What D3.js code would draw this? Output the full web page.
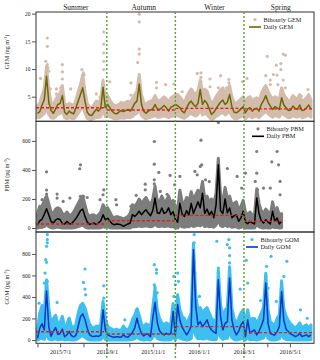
<!DOCTYPE html>
<html>
<head>
<meta charset="utf-8">
<script src="https://cdn.jsdelivr.net/npm/d3@7"></script>
<style>
  body { margin: 0; background: #fff; }
  svg { display: block; font-family: "Liberation Serif", "Times New Roman", serif; }
</style>
</head>
<body>
<div id="viz"></div>
<script>
// daily series: one value every 3 days from 2015/6/1
const START = new Date(2015, 5, 1);
const STEP_DAYS = 3;

const seasonNames = ["Summer", "Autumn", "Winter", "Spring"];
const seasonLabelDates = ["2015-07-22", "2015-10-20", "2016-01-22", "2016-04-19"];
const seasonBounds = ["2015-09-01", "2015-12-01", "2016-03-01"];

// GEM (ng m-3)
const gemDaily = [2.0,2.3,3.5,4.5,8.7,4.0,2.5,2.0,2.8,3.6,
  3.8,5.2,2.2,1.8,2.4,2.1,1.9,3.0,4.2,5.4,
  6.6,4.2,2.2,1.7,1.6,2.2,2.7,2.4,3.0,6.7,
  3.0,3.6,3.0,2.4,2.0,1.9,2.2,2.5,2.3,2.5,
  2.7,2.4,3.0,3.8,4.2,7.3,3.6,2.4,2.0,2.4,
  2.6,2.8,3.6,2.8,2.7,3.0,3.4,3.0,2.4,3.1,
  3.3,3.6,3.4,3.0,2.4,2.1,3.0,3.8,4.2,3.6,
  3.2,3.8,6.3,3.6,4.3,3.8,2.8,1.8,2.2,2.8,
  3.5,4.0,4.4,3.6,4.0,5.4,3.2,2.2,2.1,2.4,
  2.8,3.2,2.1,2.8,3.0,2.4,2.8,2.9,2.4,3.6,
  4.3,5.2,4.0,3.3,2.7,3.2,3.0,2.7,4.8,3.5,
  3.0,2.5,2.6,3.3,2.9,2.7,3.5,2.5,2.6,3.0,
  3.5,2.7];
// spread of the bihourly readings around each daily value
const gemHigh = [3.4,3.8,5.2,6.5,10.5,6.2,4.0,3.6,4.4,5.2,
  5.6,7.0,3.8,3.4,3.8,3.6,3.3,4.4,5.8,7.2,
  9.0,6.0,3.8,3.2,3.0,3.6,4.2,4.0,4.6,8.0,
  4.6,5.2,4.4,3.8,3.4,3.4,3.6,4.0,3.8,4.0,
  4.2,4.0,4.6,5.4,6.0,9.0,5.4,4.0,3.6,4.0,
  4.2,4.4,5.2,4.4,4.2,4.6,5.0,4.6,4.0,4.8,
  5.0,5.4,5.4,5.0,4.4,4.0,5.0,5.8,6.4,5.8,
  5.4,6.0,8.0,5.8,6.4,6.0,4.8,3.6,4.2,5.0,
  5.6,6.2,6.6,5.8,6.2,7.0,5.0,4.0,3.8,4.2,
  4.6,5.0,4.0,4.8,5.0,4.2,4.6,4.8,4.2,5.6,
  6.4,7.0,6.0,5.2,4.6,5.0,4.8,4.6,6.6,5.4,
  4.8,4.2,4.4,5.2,4.8,4.6,5.4,4.2,4.4,4.8,
  5.4,4.4];
const gemLow = [1.2,1.3,1.6,2.0,3.0,1.8,1.2,1.1,1.4,1.8,
  2.0,2.4,1.2,1.0,1.2,1.1,1.0,1.4,2.0,2.6,
  3.2,2.0,1.1,0.9,0.9,1.1,1.3,1.2,1.4,2.8,
  1.4,1.6,1.4,1.2,1.0,1.0,1.1,1.2,1.1,1.2,
  1.3,1.2,1.4,1.8,2.0,3.0,1.6,1.2,1.0,1.2,
  1.3,1.4,1.7,1.3,1.3,1.4,1.6,1.4,1.2,1.4,
  1.5,1.7,1.6,1.4,1.2,1.1,1.4,1.8,2.0,1.7,
  1.5,1.8,2.6,1.7,2.0,1.8,1.3,0.9,1.1,1.4,
  1.7,2.0,2.2,1.7,2.0,2.4,1.5,1.1,1.0,1.2,
  1.4,1.6,1.0,1.4,1.5,1.2,1.4,1.5,1.2,1.7,
  2.0,2.4,1.9,1.6,1.3,1.6,1.5,1.3,2.2,1.7,
  1.5,1.2,1.3,1.6,1.4,1.3,1.7,1.2,1.3,1.5,
  1.7,1.3];
// isolated bihourly readings: [days after 2015/6/1, value]
const gemSpikes = [[4,8.3],[13,15.6],[13,14.1],[11,11.4],[13,10.8],[14,10.2],[15,9.6],[12,9.3],[17,6.4],[25,6.4],[25,5.5],
  [33,10.8],[33,9.5],[33,8.2],[33,6.9],[33,6.0],[31,6.6],[44,6.4],[59,9.9],[61,9.3],[62,8.9],[60,8.2],[59,7.6],
  [78,5.5],[83,4.9],[88,16.7],[88,14.5],[88,12.9],[88,11.4],[88,9.9],[96,7.7],[124,7.5],[124,5.3],
  [135,19.9],[135,18.5],[135,13.6],[135,12.7],[133,11.2],[158,7.6],[158,6.6],[170,7.2],[181,7.3],[192,5.9],
  [212,9.2],[217,9.3],[217,8.5],[217,7.7],[229,8.2],[229,6.8],[243,8.8],[240,6.6],[254,8.1],[254,7.5],[251,6.6],
  [278,8.3],[272,7.7],[305,12.3],[303,8.8],[302,6.8],[309,8.0],[309,7.2],[313,9.0],[317,10.7],[318,8.9],[319,7.2],
  [323,11.0],[323,9.9],[326,12.7],[326,8.0],[329,12.5],[329,6.6],[350,5.1],[359,6.3]];
const gemMedian = [3.0, 2.6, 2.9, 2.8];

// PBM (pg m-3), ends 2016/4/21
const pbmDaily = [20,50,60,95,133,90,45,34,55,65,
  57,30,28,45,30,30,46,65,90,120,
  130,80,42,25,30,34,24,35,50,92,
  57,69,48,30,22,28,26,22,12,20,
  28,34,92,80,95,115,92,110,126,103,
  85,120,206,105,100,138,100,110,138,92,
  112,60,40,170,95,80,120,90,170,100,
  140,180,140,240,100,130,90,115,70,160,
  435,120,100,200,105,138,70,85,90,46,
  69,115,40,30,46,35,28,206,100,50,
  34,57,40,28,115,46,69,28,46];
const pbmHigh = [100,150,150,190,220,170,110,100,130,140,
  130,100,90,110,90,90,110,140,170,200,
  220,160,100,80,90,90,80,90,110,160,
  130,140,110,80,70,80,75,70,60,70,
  80,100,160,150,170,200,170,190,210,180,
  160,200,290,190,180,220,180,190,220,170,
  190,150,130,260,180,170,210,180,250,190,
  230,260,230,320,200,220,180,200,170,240,
  480,220,190,280,200,220,160,170,180,120,
  150,190,110,90,110,90,90,270,170,120,
  100,130,110,90,180,110,140,90,100];
const pbmLow = [0,3,5,10,25,10,2,0,5,5,
  4,0,0,2,0,0,2,5,10,15,
  20,8,0,0,0,0,0,0,2,10,
  5,8,2,0,0,0,0,0,0,0,
  0,0,10,8,10,15,10,12,15,12,
  8,12,30,12,10,15,10,12,15,8,
  10,2,0,20,8,5,12,8,20,10,
  15,20,15,30,10,15,8,12,5,20,
  60,15,10,25,10,15,5,8,8,0,
  5,10,0,0,2,0,0,25,8,2,
  0,3,0,0,10,2,5,0,2];
const pbmSpikes = [[12,387],[12,261],[12,234],[12,197],[6,195],[26,234],[26,206],[43,206],[34,183],[56,408],[57,435],
  [57,218],[61,218],[66,210],[83,195],[88,263],[87,229],[104,195],[105,160],[124,150],[131,225],[143,302],[143,263],
  [155,596],[155,440],[155,332],[155,305],[161,383],[163,252],[172,232],[176,362],[182,298],[189,355],[209,390],
  [212,366],[218,435],[216,424],[217,605],[223,332],[228,320],[240,726],[240,456],[252,410],[265,355],[276,378],
  [271,275],[291,527],[291,378],[289,321],[292,263],[300,275],[309,275],[311,456],[318,527],[320,435],[322,321],[322,229]];
const pbmMedian = [28, 50, 87, 46];

// GOM (pg m-3)
const gomDaily = [16,110,150,93,455,120,35,80,115,50,
  60,100,30,47,80,40,28,42,130,215,
  243,190,110,50,35,32,38,33,45,280,
  93,47,38,30,25,31,28,25,47,30,
  25,47,70,110,202,120,60,37,55,50,
  31,200,350,160,85,60,47,62,50,60,
  264,47,330,180,120,80,47,80,130,840,
  320,140,171,124,150,187,124,93,75,62,
  560,218,93,155,170,576,187,93,47,80,
  140,171,31,187,62,80,93,47,80,130,
  187,529,155,62,50,47,78,124,451,180,
  100,78,55,47,31,40,62,31,40,47,
  31,47];
const gomHigh = [100,250,320,250,560,300,150,200,230,150,
  160,220,110,150,200,130,110,150,250,320,
  340,300,220,150,120,110,130,120,150,360,
  200,130,110,100,90,100,90,90,130,100,
  90,130,190,230,290,230,150,120,150,140,
  110,300,480,280,200,160,140,160,140,160,
  340,150,420,280,220,200,150,200,250,900,
  420,280,300,250,280,300,250,200,180,160,
  650,330,200,280,300,680,300,200,150,200,
  250,280,140,280,170,200,200,150,200,250,
  300,620,280,170,150,140,200,230,550,290,
  220,180,150,130,110,130,160,110,130,140,
  110,140];
const gomLow = [0,10,15,5,60,10,0,5,10,2,
  5,8,0,2,5,0,0,2,15,30,
  40,25,8,0,0,0,0,0,2,40,
  5,0,0,0,0,0,0,0,2,0,
  0,2,5,10,30,10,2,0,2,2,
  0,25,50,15,5,2,0,2,0,2,
  30,0,40,15,8,5,0,5,10,150,
  40,10,15,8,10,20,8,5,3,2,
  80,25,5,15,15,80,20,5,0,5,
  10,15,0,20,2,5,5,0,5,10,
  20,70,15,2,0,0,5,10,60,15,
  5,3,2,0,0,0,2,0,0,2,
  0,2];
const gomSpikes = [[13,980],[13,934],[13,903],[12,871],[11,747],[12,722],[10,622],[9,529],[13,545],[2,342],[6,280],
  [26,349],[42,202],[63,660],[61,535],[63,473],[64,420],[88,504],[88,389],[87,311],[116,187],[133,280],
  [155,700],[158,654],[158,622],[155,513],[156,492],[159,439],[181,405],[181,591],[186,622],[187,545],[183,513],
  [208,980],[208,903],[208,716],[209,622],[215,405],[238,918],[240,669],[240,628],[254,934],[252,887],[255,856],
  [255,784],[255,716],[277,741],[279,529],[269,473],[296,367],[303,591],[304,685],[310,778],[306,483],[317,358],
  [331,731],[327,591],[358,202],[349,280]];
const gomMedian = [77, 56, 124, 68];

const parse = d3.timeParse("%Y-%m-%d");
const W = 320, H = 360;

const panels = [
  { name: "GEM", unit: "ng", top: 12, bottom: 121.3, domain: [0.56, 20.3], ticks: [5, 10, 15, 20],
    daily: gemDaily, high: gemHigh, low: gemLow, spikes: gemSpikes, median: gemMedian, end: "2016-06-02",
    dot: "#d4bcad", line: "#6b6800", titleY: 52, legX: 249 },
  { name: "PBM", unit: "pg", top: 121.3, bottom: 232, domain: [-27.5, 735], ticks: [0, 200, 400, 600],
    daily: pbmDaily, high: pbmHigh, low: pbmLow, spikes: pbmSpikes, median: pbmMedian, end: "2016-04-21",
    dot: "#7d7d7d", line: "#000", titleY: 175, legX: 252 },
  { name: "GOM", unit: "pg", top: 232, bottom: 343.3, domain: [-31, 1004], ticks: [0, 200, 400, 600, 800],
    daily: gomDaily, high: gomHigh, low: gomLow, spikes: gomSpikes, median: gomMedian, end: "2016-06-02",
    dot: "#3dbff0", line: "#0b35c8", titleY: 287, legX: 246 }
];

const svg = d3.select("#viz").append("svg").attr("width", W).attr("height", H);
svg.append("rect").attr("width", W).attr("height", H).attr("fill", "#fff");

const x = d3.scaleTime()
  .domain([new Date(2015, 4, 30), new Date(2016, 5, 2)])
  .range([36, 314]);
const gridDate = i => d3.timeDay.offset(START, i * STEP_DAYS);
const dayDate = d => d3.timeDay.offset(START, d);

panels.forEach((p, k) => {
  const y = d3.scaleLinear().domain(p.domain).range([p.bottom, p.top]);
  const g = svg.append("g");

  svg.append("clipPath").attr("id", "clip" + k)
    .append("rect").attr("x", 36).attr("y", p.top).attr("width", 278).attr("height", p.bottom - p.top);
  const body = g.append("g").attr("clip-path", `url(#clip${k})`);

  // bihourly cloud
  body.append("path")
    .datum(p.high.map((h, i) => ({ i, lo: p.low[i], hi: h })))
    .attr("d", d3.area().x(d => x(gridDate(d.i))).y0(d => y(d.lo)).y1(d => y(d.hi)))
    .attr("fill", p.dot)
    .attr("stroke", p.dot)
    .attr("stroke-width", 3)
    .attr("stroke-linejoin", "round");

  body.selectAll("circle.spike")
    .data(p.spikes)
    .enter()
    .append("circle")
    .attr("class", "spike")
    .attr("cx", d => x(dayDate(d[0])))
    .attr("cy", d => y(d[1]))
    .attr("r", 1.6)
    .attr("fill", p.dot);

  // daily mean
  body.append("path")
    .datum(p.daily)
    .attr("d", d3.line().x((d, i) => x(gridDate(i))).y(d => y(d)))
    .attr("fill", "none")
    .attr("stroke", p.line)
    .attr("stroke-width", 1.5)
    .attr("stroke-linejoin", "round");

  // seasonal reference level
  const edges = [x.domain()[0], ...seasonBounds.map(parse), parse(p.end)];
  body.selectAll("line.med")
    .data(p.median)
    .enter()
    .append("line")
    .attr("x1", (d, i) => x(edges[i]))
    .attr("x2", (d, i) => x(edges[i + 1]))
    .attr("y1", d => y(d))
    .attr("y2", d => y(d))
    .attr("stroke", "#e0201c")
    .attr("stroke-width", 1.4)
    .attr("stroke-dasharray", "3,2");

  // frame
  g.append("rect")
    .attr("x", 36).attr("y", p.top)
    .attr("width", 278).attr("height", p.bottom - p.top)
    .attr("fill", "none").attr("stroke", "#333").attr("stroke-width", 1);

  const yAxis = g.append("g")
    .attr("transform", "translate(36,0)")
    .call(d3.axisLeft(y).tickValues(p.ticks).tickSize(4).tickPadding(1.5));
  yAxis.select(".domain").remove();
  yAxis.selectAll("line").attr("stroke", "#555");
  yAxis.selectAll("text").attr("font-size", 5.5).attr("font-family", "Liberation Serif").attr("fill", "#222");

  // axis title
  const t = g.append("text")
    .attr("transform", `translate(9,${p.titleY}) rotate(-90)`)
    .attr("text-anchor", "middle")
    .attr("font-size", 6)
    .attr("fill", "#222");
  t.append("tspan").text(`${p.name} (${p.unit} m`);
  t.append("tspan").attr("font-size", 4).attr("dy", -2.2).text("-3");
  t.append("tspan").attr("dy", 2.2).text(")");

  // legend
  const ly = p.top + 7.5;
  g.append("circle").attr("cx", p.legX + 6).attr("cy", ly).attr("r", 1.6).attr("fill", p.dot);
  g.append("line")
    .attr("x1", p.legX).attr("x2", p.legX + 12)
    .attr("y1", ly + 7.5).attr("y2", ly + 7.5)
    .attr("stroke", p.line).attr("stroke-width", 1.6);
  g.append("text").attr("x", p.legX + 14.5).attr("y", ly).attr("dy", "0.33em")
    .attr("font-size", 6.3).attr("fill", "#222").text(`Bihourly ${p.name}`);
  g.append("text").attr("x", p.legX + 14.5).attr("y", ly + 7.5).attr("dy", "0.33em")
    .attr("font-size", 6.3).attr("fill", "#222").text(`Daily ${p.name}`);
});

// season borders
svg.selectAll("line.season")
  .data(seasonBounds.map(parse))
  .enter()
  .append("line")
  .attr("x1", d => x(d)).attr("x2", d => x(d))
  .attr("y1", 12).attr("y2", H)
  .attr("stroke", "#4fa82a")
  .attr("stroke-width", 1.4)
  .attr("stroke-dasharray", "2,2");

svg.selectAll("text.season")
  .data(seasonNames)
  .enter()
  .append("text")
  .attr("x", (d, i) => x(parse(seasonLabelDates[i])))
  .attr("y", 9.5)
  .attr("text-anchor", "middle")
  .attr("font-size", 7.5)
  .attr("fill", "#222")
  .text(d => d);

// date axis
const xAxis = svg.append("g")
  .attr("transform", "translate(0,343.3)")
  .call(d3.axisBottom(x)
    .tickValues(d3.timeMonth.range(new Date(2015, 5, 1), new Date(2016, 5, 1)))
    .tickSize(4)
    .tickPadding(2)
    .tickFormat(d => d.getMonth() % 2 === 0 ? `${d.getFullYear()}/${d.getMonth() + 1}/1` : ""));
xAxis.select(".domain").remove();
xAxis.selectAll("line").attr("stroke", "#555");
xAxis.selectAll("text").attr("font-size", 6).attr("font-family", "Liberation Serif").attr("fill", "#222");
</script>
</body>
</html>
